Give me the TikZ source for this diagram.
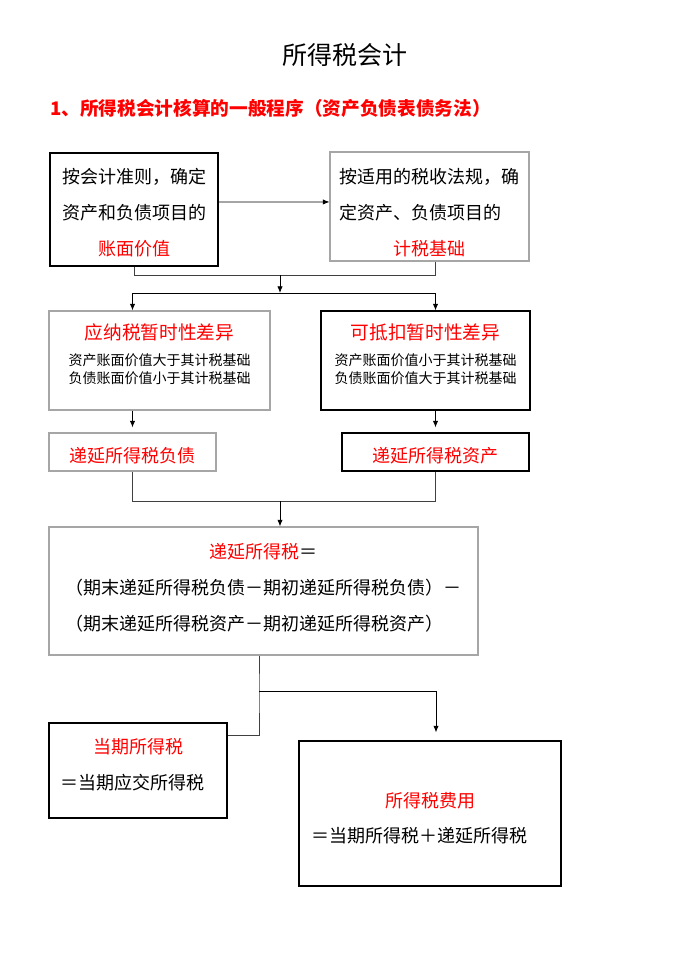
\documentclass[tikz,border=0pt]{standalone}
\usepackage{fontspec}
\setmainfont{Noto Sans CJK SC}
\usetikzlibrary{arrows.meta,positioning}

\begin{document}
\begin{tikzpicture}[
  x=0.75pt, y=-0.75pt,
  font=\fontsize{13.5}{27}\selectfont,
  box/.style={draw, line width=0.8pt, inner sep=0pt, align=center},
  lbox/.style={box, draw=black!35},
  small/.style={font=\fontsize{10.5}{13.5}\selectfont},
  arr/.style={-{Latex[length=5pt,width=4pt]}, line width=0.6pt},
  link/.style={line width=0.6pt, black!75}
]
\useasboundingbox (0,0) rectangle (690,975);

\node (title) at (345,55) {\fontsize{18.75}{22}\selectfont 所得税会计};
\node[anchor=west, inner sep=0pt, text=red, font=\fontsize{14}{16}\selectfont\bfseries] (sub) at (50,108)
  {1、所得税会计核算的一般程序（资产负债表债务法）};

% book value and tax base
\node[box, minimum width=126pt, minimum height=84.75pt] (acct) at (134,209.5)
  {\raisebox{-2pt}[\height][\depth]{\begin{tabular}{@{}c@{}}按会计准则，确定\\资产和负债项目的\\
   \textcolor{red}{账面价值}\end{tabular}}};
\node[lbox, minimum width=149.25pt, minimum height=81.75pt] (tax) at (429.5,206.5)
  {\raisebox{-4pt}[\height][\depth]{\begin{tabular}{@{}l@{}}按适用的税收法规，确\\定资产、负债项目的\\
   \multicolumn{1}{@{}c@{}}{\textcolor{red}{计税基础}}\end{tabular}}};

% temporary differences
\node[lbox, small, minimum width=165.75pt, minimum height=74.25pt] (taxable) at (159.5,360.5)
  {\raisebox{3pt}[\height][\depth]{\begin{tabular}{@{}c@{}}\textcolor{red}{\fontsize{14}{14}\selectfont 应纳税暂时性差异}\\[6pt]
   资产账面价值大于其计税基础\\负债账面价值小于其计税基础\end{tabular}}};
\node[box, small, minimum width=156.75pt, minimum height=74.25pt] (deductible) at (425.5,360.5)
  {\raisebox{3pt}[\height][\depth]{\begin{tabular}{@{}c@{}}\textcolor{red}{\fontsize{14}{14}\selectfont 可抵扣暂时性差异}\\[6pt]
   资产账面价值小于其计税基础\\负债账面价值大于其计税基础\end{tabular}}};

\node[lbox, minimum width=125.25pt, minimum height=28.5pt, text=red] (dtl) at (132.5,452)
  {\raisebox{-3pt}[\height][\depth]{递延所得税负债}};
\node[box, minimum width=140.25pt, minimum height=28.5pt, text=red] (dta) at (435.5,452)
  {\raisebox{-3pt}[\height][\depth]{递延所得税资产}};

% deferred tax
\node[lbox, minimum width=321.75pt, minimum height=96pt] (deferred) at (263.5,591)
  {\raisebox{2.5pt}[\height][\depth]{\begin{tabular}{@{}l@{}}\multicolumn{1}{@{}c@{}}{\textcolor{red}{递延所得税}＝}\\
   （期末递延所得税负债－期初递延所得税负债）－\\（期末递延所得税资产－期初递延所得税资产）\end{tabular}}};

\node[box, minimum width=133.5pt, minimum height=71.25pt] (current) at (138,770.5)
  {\raisebox{5pt}[\height][\depth]{\begin{tabular}{@{}l@{\hspace{9pt}}}\multicolumn{1}{@{}c@{}}{\textcolor{red}{当期所得税}}\\
   ＝当期应交所得税\end{tabular}}};
\node[box, minimum width=196.5pt, minimum height=108.75pt] (expense) at (430,813.5)
  {\raisebox{-3.4pt}[\height][\depth]{\begin{tabular}{@{}l@{\hspace{16.5pt}}}\multicolumn{1}{@{}c@{}}{\textcolor{red}{所得税费用}}\\[-0.75pt]
   ＝当期所得税＋递延所得税\end{tabular}}};

\coordinate (m1) at (280,275);
\coordinate (s1) at (280,293);
\coordinate (m2) at (280,501);
\coordinate (b1) at (259,691);

\draw[arr] ([yshift=5.6pt]acct.east) -- ([yshift=3.4pt]tax.west);
\draw[link] (acct) |- (m1);
\draw[link] (tax.south -| dta) |- (m1);
\draw[arr] (m1) -- (s1);
\draw[arr] (s1) -| (taxable.north -| dtl);
\draw[arr] (s1) -| (deductible.north -| dta);
\draw[arr, shorten >=3.75pt] (taxable.south -| dtl) -- (dtl);
\draw[arr, shorten >=3.75pt] (deductible.south -| dta) -- (dta);
\draw[link] (dtl) |- (m2);
\draw[link] (dta) |- (m2);
\draw[arr] (m2) -- (m2 |- deferred.north);
\draw[link] (deferred.south -| b1) -- (b1) |- ([yshift=-9.75pt]current.north east);
\draw[arr, shorten >=6pt] (b1) -| ([xshift=4.5pt]expense.north);
\end{tikzpicture}
\end{document}
